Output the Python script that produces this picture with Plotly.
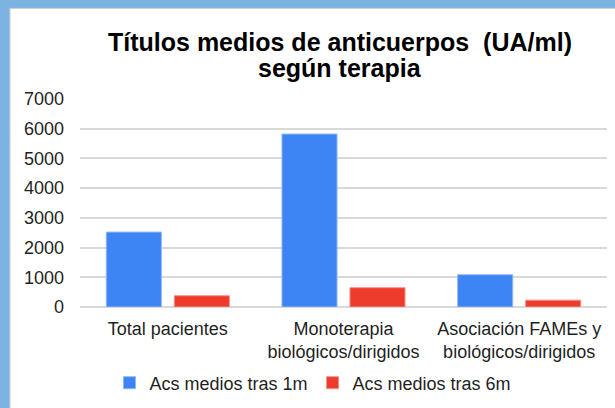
import plotly.graph_objects as go

categories = ["Total pacientes", "Monoterapia<br>biológicos/dirigidos", "Asociación FAMEs y<br>biológicos/dirigidos"]
series_1m = [2520, 5820, 1085]
series_6m = [380, 650, 230]
series_names = ["Acs medios tras 1m", "Acs medios tras 6m"]
tick_vals = [0, 1000, 2000, 3000, 4000, 5000, 6000, 7000]
title_lines = ["Títulos medios de anticuerpos&nbsp; (UA/ml)", "según terapia"]

W, H = 615, 408
ML, MR, MT, MB = 80, 8, 99, 100
pw = W - ML - MR
ph = H - MT - MB

def px_x(p):
    return (p - ML) / pw

def px_y(p):
    return (H - MB - p) / ph

FONT = "Liberation Sans, Arial, sans-serif"
TXT = "#1F1F1F"

fig = go.Figure()
fig.add_trace(go.Bar(x=categories, y=series_1m, name=series_names[0],
                     marker=dict(color="#3D84F5", line=dict(color="#8FB6F8", width=1))))
fig.add_trace(go.Bar(x=categories, y=series_6m, name=series_names[1],
                     marker=dict(color="#EE3B2C", line=dict(color="#F59088", width=1))))

blue = "#7DB3E0"
shapes = [
    dict(type="rect", xref="paper", yref="paper", x0=px_x(10), x1=px_x(W + 5), y0=px_y(H + 5), y1=px_y(8),
         fillcolor="white", line=dict(color="#D0D0D0", width=1), layer="below"),
]

fig.update_layout(
    width=W, height=H,
    margin=dict(l=ML, r=MR, t=MT, b=MB, pad=0),
    paper_bgcolor=blue, plot_bgcolor="white",
    title=dict(text="<b>" + title_lines[0] + "</b>",
               xref="container", x=340 / W, xanchor="center", y=1 - 42 / H, yanchor="middle",
               font=dict(family=FONT, size=25, color="#000000")),
    annotations=[dict(text="<b>" + title_lines[1] + "</b>", xref="paper", yref="paper",
                      x=px_x(340), y=px_y(68), xanchor="center", yanchor="middle", showarrow=False,
                      font=dict(family=FONT, size=25, color="#000000"))],
    barmode="group", bargap=0.226, bargroupgap=0.19,
    font=dict(family=FONT, size=18, color=TXT),
    xaxis=dict(showgrid=False, showline=False, ticks="", tickfont=dict(size=18, color=TXT),
               ticklabelstandoff=9),
    yaxis=dict(range=[0, 7000], tickvals=tick_vals, showgrid=True, gridcolor="#D9D9D9", gridwidth=1.5,
               zeroline=True, zerolinecolor="#D9D9D9", zerolinewidth=1.5, showline=False,
               ticks="", ticklen=0, tickfont=dict(size=18, color=TXT), ticklabelstandoff=15),
    legend=dict(orientation="h", x=px_x(313), xanchor="center", y=px_y(383), yanchor="middle",
                font=dict(size=18, color=TXT), itemwidth=30, traceorder="normal",
                bgcolor="rgba(0,0,0,0)"),
    shapes=shapes,
    showlegend=True,
)

fig.write_html("out.html", config={"displayModeBar": False},
               post_script="document.body.style.margin='0';")
